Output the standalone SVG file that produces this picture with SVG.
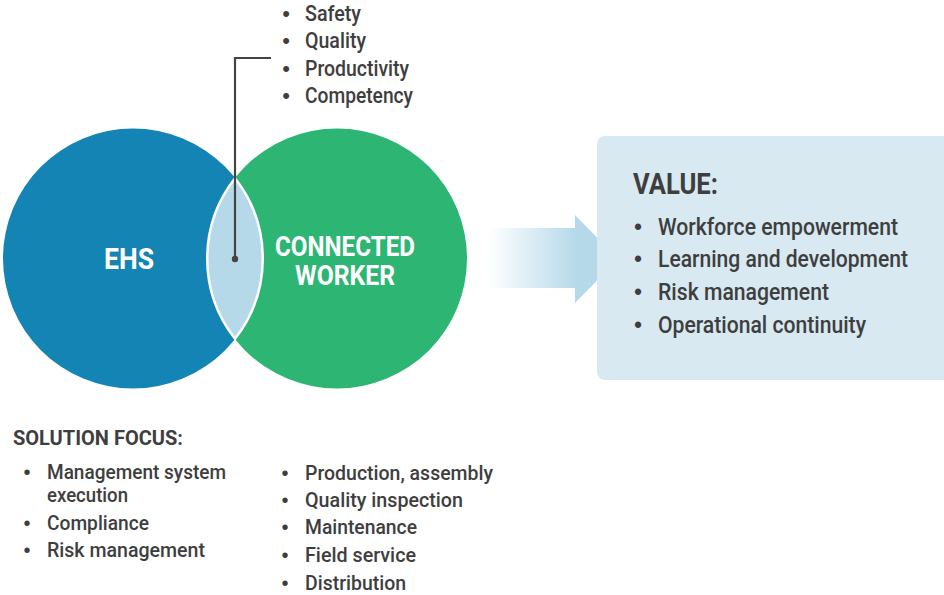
<svg xmlns="http://www.w3.org/2000/svg" width="944" height="595" viewBox="0 0 944 595">
<style>
.t{font-family:Roboto,"Liberation Sans",sans-serif;fill:#3e3e3e;font-weight:500}
.l{font-size:22px}
.s{font-size:20px}
.b{font-weight:bold}
.w{fill:#ffffff;font-weight:bold;font-family:Roboto,"Liberation Sans",sans-serif}
.bu{font-family:"Liberation Sans",sans-serif;fill:#3e3e3e;text-anchor:middle}
</style>
<defs>
<linearGradient id="ag" gradientUnits="userSpaceOnUse" x1="488" y1="0" x2="578" y2="0">
<stop offset="0" stop-color="#b5d9e9" stop-opacity="0"/>
<stop offset="1" stop-color="#b5d9e9"/>
</linearGradient>
</defs>
<rect width="944" height="595" fill="#ffffff"/>
<g id="ehs">
<circle cx="133" cy="258.5" r="130" fill="#1384b4"/>
<text class="w" x="129" y="269" font-size="30" text-anchor="middle" textLength="50" lengthAdjust="spacingAndGlyphs">EHS</text>
</g>
<g id="connected-worker">
<circle cx="337" cy="258.5" r="130" fill="#2db673"/>
<text class="w" x="345" y="256" font-size="27" text-anchor="middle" textLength="140" lengthAdjust="spacingAndGlyphs">CONNECTED</text>
<text class="w" x="345" y="285" font-size="27" text-anchor="middle" textLength="100" lengthAdjust="spacingAndGlyphs">WORKER</text>
</g>
<g id="overlap">
<path d="M235 178.2 A130 130 0 0 1 235 338.8 A130 130 0 0 1 235 178.2 Z" fill="#b6d9e9" stroke="#ffffff" stroke-width="2.5"/>
</g>
<g id="connectors">
<polyline points="271,58 235,58 235,259" fill="none" stroke="#444444" stroke-width="2.2"/>
<circle cx="235" cy="259" r="3.2" fill="#444444"/>
</g>
<g id="overlap-list">
<text class="bu l" x="286" y="21">•</text>
<text class="t l" x="305" y="21" textLength="56" lengthAdjust="spacingAndGlyphs">Safety</text>
<text class="bu l" x="286" y="48">•</text>
<text class="t l" x="305" y="48" textLength="61" lengthAdjust="spacingAndGlyphs">Quality</text>
<text class="bu l" x="286" y="76">•</text>
<text class="t l" x="305" y="76" textLength="104" lengthAdjust="spacingAndGlyphs">Productivity</text>
<text class="bu l" x="286" y="103">•</text>
<text class="t l" x="305" y="103" textLength="108" lengthAdjust="spacingAndGlyphs">Competency</text>
</g>
<g id="arrow">
<path d="M488 228 L575 228 L575 215 L618 259 L575 303 L575 288 L488 288 Z" fill="url(#ag)"/>
</g>
<g id="value">
<rect x="597" y="136" width="380" height="244" rx="8" fill="#d8e9f2"/>
<text class="t b" x="633" y="194" font-size="29" textLength="85" lengthAdjust="spacingAndGlyphs">VALUE:</text>
<text class="bu" x="638" y="235" font-size="23">•</text>
<text class="t" x="658" y="235" font-size="23" textLength="240" lengthAdjust="spacingAndGlyphs">Workforce empowerment</text>
<text class="bu" x="638" y="267" font-size="23">•</text>
<text class="t" x="658" y="267" font-size="23" textLength="250" lengthAdjust="spacingAndGlyphs">Learning and development</text>
<text class="bu" x="638" y="300" font-size="23">•</text>
<text class="t" x="658" y="300" font-size="23" textLength="171" lengthAdjust="spacingAndGlyphs">Risk management</text>
<text class="bu" x="638" y="333" font-size="23">•</text>
<text class="t" x="658" y="333" font-size="23" textLength="208" lengthAdjust="spacingAndGlyphs">Operational continuity</text>
</g>
<g id="solution-focus">
<text class="t b" x="13" y="445" font-size="20" textLength="170" lengthAdjust="spacingAndGlyphs">SOLUTION FOCUS:</text>
<text class="bu s" x="27" y="479">•</text>
<text class="t s" x="47" y="479" textLength="179" lengthAdjust="spacingAndGlyphs">Management system</text>
<text class="t s" x="47" y="502" textLength="81" lengthAdjust="spacingAndGlyphs">execution</text>
<text class="bu s" x="27" y="530">•</text>
<text class="t s" x="47" y="530" textLength="102" lengthAdjust="spacingAndGlyphs">Compliance</text>
<text class="bu s" x="27" y="557">•</text>
<text class="t s" x="47" y="557" textLength="158" lengthAdjust="spacingAndGlyphs">Risk management</text>
<text class="bu s" x="285" y="480">•</text>
<text class="t s" x="305" y="480" textLength="188" lengthAdjust="spacingAndGlyphs">Production, assembly</text>
<text class="bu s" x="285" y="507">•</text>
<text class="t s" x="305" y="507" textLength="158" lengthAdjust="spacingAndGlyphs">Quality inspection</text>
<text class="bu s" x="285" y="534">•</text>
<text class="t s" x="305" y="534" textLength="112" lengthAdjust="spacingAndGlyphs">Maintenance</text>
<text class="bu s" x="285" y="562">•</text>
<text class="t s" x="305" y="562" textLength="111" lengthAdjust="spacingAndGlyphs">Field service</text>
<text class="bu s" x="285" y="590">•</text>
<text class="t s" x="305" y="590" textLength="101" lengthAdjust="spacingAndGlyphs">Distribution</text>
</g>
</svg>
